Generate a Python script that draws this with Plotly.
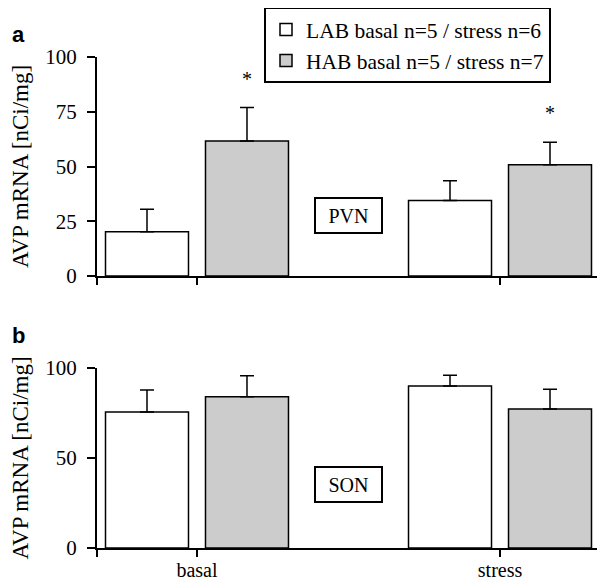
import plotly.graph_objects as go

# ---- data ----
categories = ["basal", "stress"]
legend_names = ["LAB basal n=5 / stress n=6", "HAB basal n=5 / stress n=7"]

pvn_lab = [20.2, 34.5]
pvn_lab_err = [10.3, 9.0]
pvn_hab = [61.7, 50.8]
pvn_hab_err = [15.2, 10.3]
pvn_hab_sig = ["*", "*"]

son_lab = [75.6, 90.0]
son_lab_err = [12.2, 6.0]
son_hab = [84.0, 77.2]
son_hab_err = [11.7, 11.0]

top_ticks = [0, 25, 50, 75, 100]
bottom_ticks = [0, 50, 100]
region_labels = ["PVN", "SON"]
region_label_y = [27.6, 35.5]
panel_labels = ["a", "b"]
y_title = "AVP mRNA [nCi/mg]"

# ---- style ----
FONT = "Liberation Serif, Times New Roman, serif"
GRAY = "#cccccc"
BARGAP = 0.34
GROUPGAP = 0.17
xs = list(range(len(categories)))
xr = [-0.33, 1.33]
OFF = 8  # page body margin of the html page

fig = go.Figure()

def bar(y, err, color, name, xa, ya, show):
    return go.Bar(
        x=xs, y=y, name=name, xaxis=xa, yaxis=ya, showlegend=show,
        marker=dict(color=color, line=dict(color="black", width=1.5)),
        error_y=dict(type="data", array=err, arrayminus=[0] * len(err),
                     symmetric=False, color="black", thickness=1.5, width=7),
        legendgroup=name,
    )

fig.add_trace(bar(pvn_lab, pvn_lab_err, "white", legend_names[0], "x", "y", True))
fig.add_trace(bar(pvn_hab, pvn_hab_err, GRAY, legend_names[1], "x", "y", True))
fig.add_trace(bar(son_lab, son_lab_err, "white", legend_names[0], "x2", "y2", False))
fig.add_trace(bar(son_hab, son_hab_err, GRAY, legend_names[1], "x2", "y2", False))

offset = (1 - BARGAP) / 4
annotations = []
for i, s in enumerate(pvn_hab_sig):
    if s:
        annotations.append(dict(
            x=xs[i] + offset, y=pvn_hab[i] + pvn_hab_err[i], xref="x", yref="y",
            text=s, showarrow=False, yanchor="middle", yshift=29,
            font=dict(family=FONT, size=20, color="black")))

for lab, yy, xref, yref in zip(region_labels, region_label_y, ["x", "x2"], ["y", "y2"]):
    annotations.append(dict(
        x=0.5, y=yy, xref=xref, yref=yref, text=lab, showarrow=False,
        bordercolor="black", borderwidth=2, borderpad=1, bgcolor="white",
        width=63, height=31, font=dict(family=FONT, size=20, color="black")))

# page-pixel positions (minus the page offset) -> paper coords
W, H = 605, 580
ML, MR, MT, MB = 97 - OFF, 13, 57 - OFF, 580 - (548 - OFF)
pw, ph = W - ML - MR, H - MT - MB

def px_x(p):
    return (p - OFF - ML) / pw

def px_y(p):
    return (H - MB - (p - OFF)) / ph

for lab, py in zip(panel_labels, [35, 335]):
    annotations.append(dict(
        x=px_x(10), y=px_y(py), xref="paper", yref="paper", text="<b>%s</b>" % lab,
        showarrow=False, font=dict(family="Liberation Sans, Arial", size=22, color="black"),
        xanchor="left", yanchor="middle"))

top_dom = [px_y(276), 1.0]
bot_dom = [0.0, px_y(368)]

axis_common = dict(showline=True, linecolor="black", linewidth=2, ticks="outside",
                   tickcolor="black", tickwidth=1.5, ticklen=8, showgrid=False,
                   zeroline=False, ticklabelstandoff=6,
                   tickfont=dict(family=FONT, size=21, color="black"))

xaxis_common = dict(axis_common, range=xr, tickmode="array", tickvals=xs,
                    ticklen=7, ticklabelstandoff=-4,
                    tickfont=dict(family=FONT, size=20, color="black"),
                    minor=dict(tickmode="array", tickvals=xr, ticks="outside",
                               ticklen=7, tickcolor="black", tickwidth=1.5))

title_font = dict(family=FONT, size=23, color="black")

fig.update_layout(
    width=W, height=H,
    margin=dict(l=ML, r=MR, t=MT, b=MB, autoexpand=False),
    paper_bgcolor="white", plot_bgcolor="white",
    barmode="group", bargap=BARGAP, bargroupgap=GROUPGAP,
    xaxis=dict(xaxis_common, domain=[0, 1], anchor="y", ticktext=["", ""]),
    yaxis=dict(axis_common, domain=top_dom, range=[0, 100], tickvals=top_ticks,
               anchor="x", title=dict(text=y_title, font=title_font, standoff=14)),
    xaxis2=dict(xaxis_common, domain=[0, 1], anchor="y2", ticktext=categories),
    yaxis2=dict(axis_common, domain=bot_dom, range=[0, 100], tickvals=bottom_ticks,
                anchor="x2", title=dict(text=y_title, font=title_font, standoff=14)),
    legend=dict(x=px_x(264), y=px_y(7), xanchor="left", yanchor="top",
                bordercolor="black", borderwidth=2, bgcolor="white",
                font=dict(family=FONT, size=21.5, color="black"),
                itemwidth=30, tracegroupgap=0),
    annotations=annotations,
)

fig.write_html("out.html")
